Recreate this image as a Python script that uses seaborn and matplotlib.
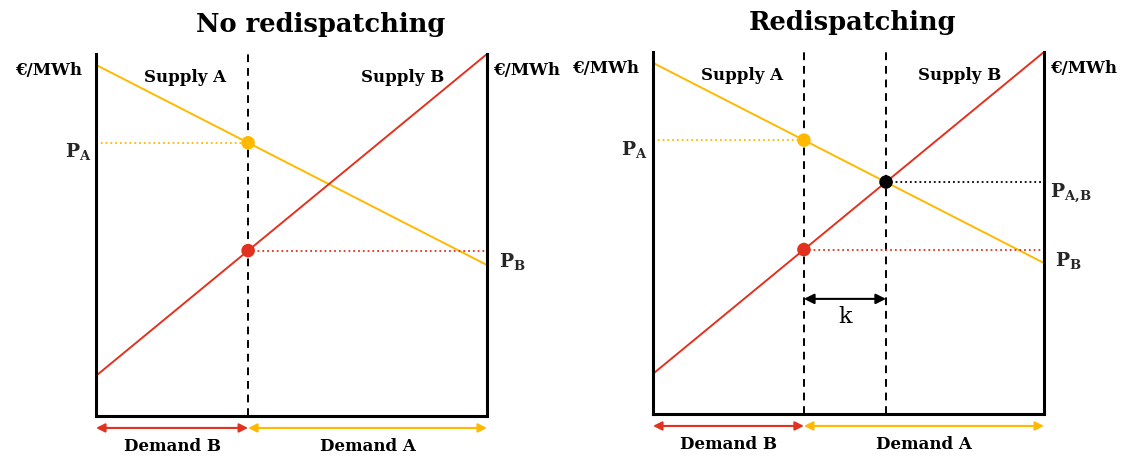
"""
Redispatching sketch: two supply curves meeting across a transmission limit.

Left panel is the split market (no redispatch), right panel shows the
redispatched case with the common price P_A,B and the transfer k.
"""

import matplotlib

matplotlib.use("Agg")

import matplotlib.pyplot as plt
import numpy as np
import seaborn as sns

# curve end points, x in capacity units (0..10), y in price units (0..10)
curve_x = [0.0, 10.0]
supply_a = [9.70, 4.17]   # yellow, falls from left to right
supply_b = [1.11, 10.0]   # red, rises from left to right

split_plain = [3.89]             # border between the zones, no redispatch
split_redispatch = [3.86, 5.96]  # border and redispatched quantity

titles = ["No redispatching", "Redispatching"]

YELLOW = "#FFB900"
RED = "#E2321F"
SERIF = "DejaVu Serif"

sns.set_theme(style="white")
plt.rcParams["font.family"] = [SERIF]
plt.rcParams["mathtext.fontset"] = "dejavuserif"

fig = plt.figure(figsize=(11.26, 4.57), dpi=100)
W, H = 1126, 457
ax_l = fig.add_axes([96 / W, 1 - 416 / H, 391 / W, 362 / H])
ax_r = fig.add_axes([653 / W, 1 - 414 / H, 391 / W, 362 / H])

lbl = dict(fontsize=12, fontweight="bold", color="black")


def base_panel(ax, title, title_x, split):
    ax.set_xlim(0, 10)
    ax.set_ylim(0, 10)
    ax.set_xticks([])
    ax.set_yticks([])
    ax.patch.set_alpha(0)
    for side in ["left", "right", "bottom"]:
        ax.spines[side].set_color("black")
        ax.spines[side].set_linewidth(2.2)
        ax.spines[side].set_visible(True)
    ax.spines["top"].set_visible(False)

    sns.lineplot(x=curve_x, y=supply_a, color=YELLOW, lw=1.4, ax=ax)
    sns.lineplot(x=curve_x, y=supply_b, color=RED, lw=1.4, ax=ax)

    ax.set_title(title, fontsize=18.5, fontweight="bold", pad=16,
                 color="black", x=title_x)

    ax.text(-0.36, 9.55, "€/MWh", ha="right", va="center", **lbl)
    ax.text(10.16, 9.55, "€/MWh", ha="left", va="center", **lbl)
    ax.text(2.27, 9.35, "Supply A", ha="center", va="center", **lbl)
    ax.text(7.85, 9.35, "Supply B", ha="center", va="center", **lbl)

    # demand arrows under the axis
    ay = -0.33
    ax.annotate("", xy=(0, ay), xytext=(split, ay), annotation_clip=False,
                arrowprops=dict(arrowstyle="<|-|>", color=RED, lw=1.5,
                                mutation_scale=13, shrinkA=0, shrinkB=0))
    ax.annotate("", xy=(split, ay), xytext=(10, ay), annotation_clip=False,
                arrowprops=dict(arrowstyle="<|-|>", color=YELLOW, lw=1.5,
                                mutation_scale=13, shrinkA=0, shrinkB=0))
    ax.text(split / 2, -0.85, "Demand B", ha="center", va="center", **lbl)
    ax.text((split + 10) / 2, -0.85, "Demand A", ha="center", va="center", **lbl)


def price_at(curve, x):
    return float(np.interp(x, curve_x, curve))


# ---- left: no redispatching
s = split_plain[0]
base_panel(ax_l, titles[0], 0.575, s)
ax_l.vlines(s, 0, 10, color="black", lw=1.4, ls=(0, (4, 3)))
pa, pb = price_at(supply_a, s), price_at(supply_b, s)
ax_l.hlines(pa, 0, s, color=YELLOW, lw=1.3, ls=":")
ax_l.hlines(pb, s, 10, color=RED, lw=1.3, ls=":")
sns.scatterplot(x=[s, s], y=[pa, pb], hue=["a", "b"],
                palette={"a": YELLOW, "b": RED}, s=95, edgecolor="none",
                legend=False, ax=ax_l, zorder=5)
ax_l.text(-0.12, pa - 0.25, r"$\mathbf{P_A}$", ha="right", va="center", fontsize=13.5)
ax_l.text(10.3, pb - 0.3, r"$\mathbf{P_B}$", ha="left", va="center", fontsize=13.5)

# ---- right: redispatching
s, q = split_redispatch
base_panel(ax_r, titles[1], 0.51, s)
for xv in split_redispatch:
    ax_r.vlines(xv, 0, 10, color="black", lw=1.4, ls=(0, (4, 3)))
pa, pb = price_at(supply_a, s), price_at(supply_b, s)
pab = price_at(supply_b, q)
ax_r.hlines(pa, 0, s, color=YELLOW, lw=1.3, ls=":")
ax_r.hlines(pb, s, 10, color=RED, lw=1.3, ls=":")
ax_r.hlines(pab, q, 10, color="black", lw=1.3, ls=":")
sns.scatterplot(x=[s, s, q], y=[pa, pb, pab], hue=["a", "b", "ab"],
                palette={"a": YELLOW, "b": RED, "ab": "black"}, s=95,
                edgecolor="none", legend=False, ax=ax_r, zorder=5)
ax_r.text(-0.15, pa - 0.25, r"$\mathbf{P_A}$", ha="right", va="center", fontsize=13.5)
ax_r.text(10.15, pab - 0.3, r"$\mathbf{P_{A,\!B}}$", ha="left", va="center",
          fontsize=13.5)
ax_r.text(10.28, pb - 0.3, r"$\mathbf{P_B}$", ha="left", va="center", fontsize=13.5)

ky = 3.18
ax_r.annotate("", xy=(s, ky), xytext=(q, ky),
              arrowprops=dict(arrowstyle="<|-|>", color="black", lw=1.5,
                              mutation_scale=15, shrinkA=0, shrinkB=0))
ax_r.text((s + q) / 2, ky - 0.5, "k", ha="center", va="center", fontsize=16,
          color="black")

fig.savefig("out.png", dpi=100)
